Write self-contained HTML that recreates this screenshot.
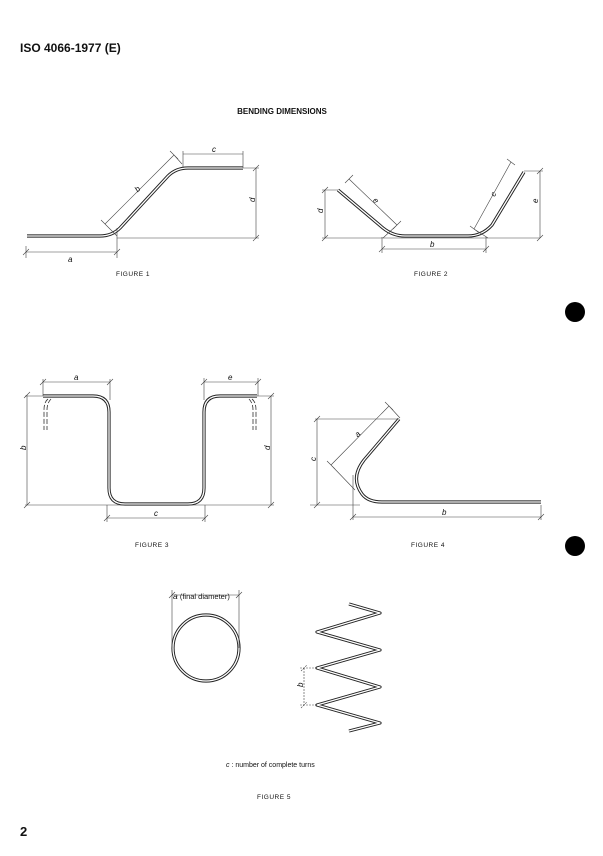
<!DOCTYPE html>
<html><head><meta charset="utf-8"><style>
html,body{margin:0;padding:0;background:#fff;}
svg{display:block;}
text{font-family:"Liberation Sans",sans-serif;fill:#111;}
.t{fill:none;stroke:#222;stroke-width:3.2;stroke-linejoin:round;}
.w{fill:none;stroke:#fff;stroke-width:1.3;stroke-linejoin:round;}
.d{fill:none;stroke:#444;stroke-width:0.6;}
.i{font-style:italic;font-size:8px;}
.f{font-size:6.5px;letter-spacing:0.5px;}
</style></head><body>
<svg width="603" height="856" viewBox="0 0 603 856" xmlns="http://www.w3.org/2000/svg">
<text x="20" y="52" font-size="12" font-weight="bold">ISO 4066-1977 (E)</text>
<text x="282" y="114" font-size="8" font-weight="bold" text-anchor="middle">BENDING DIMENSIONS</text>

<!-- FIG 1 -->
<path class="t" d="M27 236 L100 236 Q112 236 120 228 L168 176 Q176 168 188 168 L243 168"/>
<path class="w" d="M27 236 L100 236 Q112 236 120 228 L168 176 Q176 168 188 168 L243 168"/>
<g class="d">
<path d="M26 252 L117 252 M26 246 L26 258 M117 228 L117 258 M23 255 L29 249 M114 255 L120 249"/>
<path d="M105 224 L174 155 M101 220 L109 228 M170 151 L178 159 M105 224 L117 236 M174 155 L182 164"/>
<path d="M183 154 L243 154 M183 151 L183 168 M243 151 L243 168"/>
<path d="M256 168 L256 238 M243 168 L259 168 M117 238 L259 238 M253 171 L259 165 M253 241 L259 235"/>
</g>
<text class="i" x="68" y="262">a</text>
<text class="i" x="135" y="192" transform="rotate(-45 137 189)">b</text>
<text class="i" x="212" y="152">c</text>
<text class="i" x="252" y="205" transform="rotate(-90 252 202)">d</text>
<text class="f" x="116" y="276">FIGURE 1</text>

<!-- FIG 2 -->
<path class="t" d="M338 190 L383 228 Q393 236 405 236 L468 236 Q482 236 492 225 L524 172"/>
<path class="w" d="M338 190 L383 228 Q393 236 405 236 L468 236 Q482 236 492 225 L524 172"/>
<g class="d">
<path d="M322 238 L540 238 M325 190 L325 238 M322 190 L338 190 M322 193 L328 187 M322 241 L328 235"/>
<path d="M540 171 L540 238 M524 171 L543 171 M537 174 L543 168 M537 241 L543 235"/>
<path d="M349 179 L397 225 M345 183 L353 175 M393 229 L401 221 M397 225 L383 238"/>
<path d="M511 162 L474 229 M507 159 L515 165 M470 226 L478 232 M474 229 L488 238"/>
<path d="M382 249 L486 249 M382 237 L382 253 M486 237 L486 253 M379 252 L385 246 M483 252 L489 246"/>
</g>
<text class="i" x="374" y="203" transform="rotate(45 376 200)">e</text>
<text class="i" x="491" y="197" transform="rotate(-62 493 194)">c</text>
<text class="i" x="430" y="247">b</text>
<text class="i" x="320" y="216" transform="rotate(-90 320 213)">d</text>
<text class="i" x="535" y="206" transform="rotate(-90 535 203)">e</text>
<text class="f" x="414" y="276">FIGURE 2</text>

<!-- FIG 3 -->
<path class="t" d="M43 396 L93 396 Q109 396 109 412 L109 488 Q109 504 125 504 L188 504 Q204 504 204 488 L204 412 Q204 396 220 396 L257 396"/>
<path class="w" d="M43 396 L93 396 Q109 396 109 412 L109 488 Q109 504 125 504 L188 504 Q204 504 204 488 L204 412 Q204 396 220 396 L257 396"/>
<path d="M48 399 Q44 402 44 410 L44 430 M51 399 Q47 403 47 410 L47 430 M252 399 Q256 402 256 410 L256 430 M249 399 Q253 403 253 410 L253 430" fill="none" stroke="#333" stroke-width="0.8" stroke-dasharray="5,2"/>
<g class="d">
<path d="M43 382 L110 382 M43 379 L43 396 M110 379 L110 400 M40 385 L46 379 M107 385 L113 379"/>
<path d="M204 382 L258 382 M204 378 L204 400 M258 378 L258 396 M201 385 L207 379 M255 385 L261 379"/>
<path d="M27 395 L27 505 M25 396 L43 396 M24 398 L30 392 M24 508 L30 502"/>
<path d="M271 396 L271 505 M257 396 L274 396 M268 399 L274 393 M268 508 L274 502"/>
<path d="M25 505 L274 505"/>
<path d="M107 518 L205 518 M107 505 L107 522 M205 505 L205 522 M104 521 L110 515 M202 521 L208 515"/>
</g>
<text class="i" x="74" y="380">a</text>
<text class="i" x="228" y="380">e</text>
<text class="i" x="154" y="516">c</text>
<text class="i" x="23" y="453" transform="rotate(-90 23 450)">b</text>
<text class="i" x="267" y="453" transform="rotate(-90 267 450)">d</text>
<text class="f" x="135" y="547">FIGURE 3</text>

<!-- FIG 4 -->
<path class="t" d="M399 419 L364 460 Q350 478 362 494 Q368 502 382 502 L541 502"/>
<path class="w" d="M399 419 L364 460 Q350 478 362 494 Q368 502 382 502 L541 502"/>
<g class="d">
<path d="M317 419 L317 505 M315 419 L399 419 M314 422 L320 416 M314 508 L320 502 M310 505 L360 505"/>
<path d="M353 517 L541 517 M353 475 L353 520 M541 505 L541 520 M350 520 L356 514 M538 520 L544 514"/>
<path d="M331 465 L389 406 M327 461 L335 469 M385 402 L393 410 M331 465 L355 490 M389 406 L400 418"/>
</g>
<text class="i" x="355" y="437" transform="rotate(-45 357 434)">a</text>
<text class="i" x="442" y="515">b</text>
<text class="i" x="313" y="464" transform="rotate(-90 313 461)">c</text>
<text class="f" x="411" y="547">FIGURE 4</text>

<!-- FIG 5 -->
<circle cx="206" cy="648" r="33" fill="none" stroke="#222" stroke-width="3.2"/>
<circle cx="206" cy="648" r="33" fill="none" stroke="#fff" stroke-width="1.3"/>
<g class="d">
<path d="M172 595 L239 595 M172 590 L172 648 M239 590 L239 648 M169 598 L175 592 M236 598 L242 592"/>
</g>
<text x="173" y="599" font-size="7.5"><tspan font-style="italic" font-size="8.5">a</tspan> (final diameter)</text>
<path class="t" d="M349 604 L380 613 L317 632 L380 650 L317 668 L380 687 L317 705 L380 723 L349 731"/>
<path class="w" d="M349 604 L380 613 L317 632 L380 650 L317 668 L380 687 L317 705 L380 723 L349 731"/>
<g class="d">
<path d="M304 668 L304 705 M300 668 L317 668 M300 705 L317 705 M301 671 L307 665 M301 708 L307 702" stroke-dasharray="2,1"/>
</g>
<text class="i" x="300" y="690" transform="rotate(-90 300 687)">b</text>
<text x="226" y="767" font-size="7"><tspan font-style="italic">c</tspan> : number of complete turns</text>
<text class="f" x="257" y="799">FIGURE 5</text>

<text x="20" y="836" font-size="13" font-weight="bold">2</text>
<circle cx="575" cy="312" r="10" fill="#000"/>
<circle cx="575" cy="546" r="10" fill="#000"/>
</svg>
</body></html>
